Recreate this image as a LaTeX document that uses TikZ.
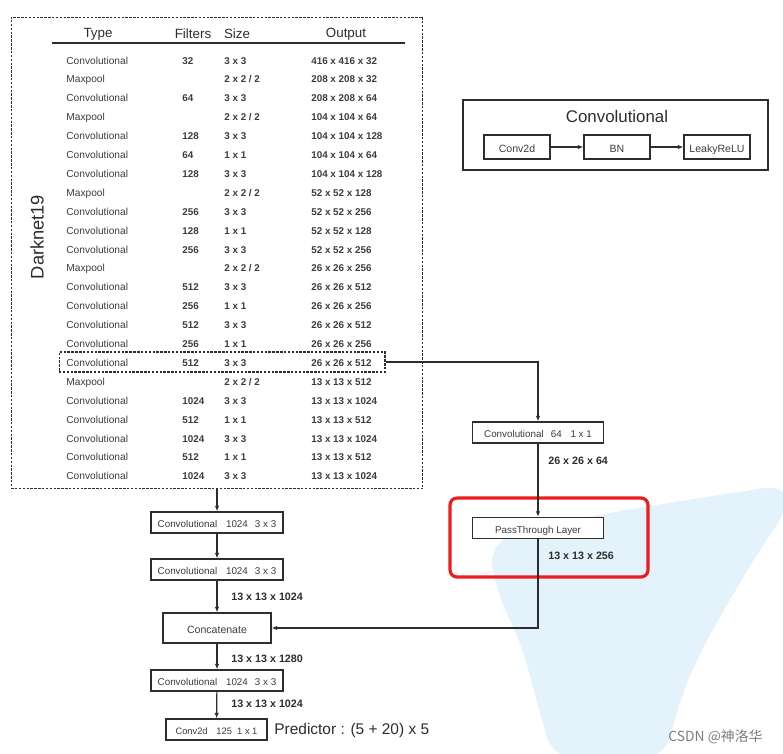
\documentclass[tikz,border=0pt]{standalone}
\usepackage{fontspec}
\setmainfont{Liberation Sans}
\newfontfamily\cjkfont{Noto Sans CJK SC}
\usepackage{tikz}
\usetikzlibrary{positioning,arrows.meta,backgrounds}
\definecolor{InkGray}{RGB}{45,45,45}
\definecolor{TextGray}{RGB}{60,60,60}
\definecolor{MarkRed}{RGB}{238,28,28}
\definecolor{HazeBlue}{RGB}{228,243,251}
\definecolor{StampGray}{RGB}{125,125,125}
\newcommand{\poolsize}{2 x 2 / 2}
\tikzset{
  typecell/.style={anchor=west, inner sep=0pt, text height=1.6ex, text depth=0.4ex, text=TextGray, font=\fontsize{5.8}{7}\selectfont},
  numcell/.style={typecell, font=\bfseries\fontsize{5.6}{7}\selectfont},
  headcell/.style={inner sep=0pt, text=InkGray, font=\fontsize{7.6}{9}\selectfont},
  dashbox/.style={draw=InkGray, line width=0.6pt, dash pattern=on 1.4pt off 0.8pt},
  layerbox/.style={draw=InkGray, line width=0.7pt, fill=white, inner sep=0pt, text=TextGray, text height=1.5ex, text depth=0.35ex, minimum height=0.42cm, font=\fontsize{5.6}{7}\selectfont},
  dimlabel/.style={anchor=west, inner sep=0pt, text=InkGray, font=\bfseries\fontsize{6.1}{7}\selectfont},
  arr/.style={draw=InkGray, line width=0.7pt, -{Latex[length=3.2pt,width=2.6pt]}}
}
\begin{document}
\begin{tikzpicture}[x=0.02cm, y=-0.02cm]
  \useasboundingbox (0,0) rectangle (783,753);
  \begin{scope}
    \clip (0,0) rectangle (783,753);
    \fill[HazeBlue, rounded corners=14pt] (488,542) -- (580,518) -- (655,505) -- (790,484) -- (790,505) -- (752,562) -- (705,643) -- (682,693) -- (664,760) -- (553,760) -- (521,643) -- (497,593) -- cycle;
  \end{scope}
  % Darknet19 table
  \node[dashbox, minimum width=8.24cm, minimum height=9.44cm] (darknet) at (217,253) {};
  \node[rotate=90, inner sep=0pt, text=InkGray, font=\fontsize{10.4}{12}\selectfont] (dnlabel) at (37,237) {Darknet19};
  \node[headcell] (htype) at (98,34) {Type};
  \node[headcell] (hfilt) at (193,34) {Filters};
  \node[headcell] (hsize) at (237,34) {Size};
  \node[headcell] (hout) at (346,34) {Output};
  \draw[InkGray, line width=0.8pt] (52,43) -- (405,43);
  \foreach \ltype/\lfilt/\lsize/\lout [count=\r from 0] in {
    Convolutional/32/3 x 3/416 x 416 x 32,
    Maxpool/{}/\poolsize/208 x 208 x 32,
    Convolutional/64/3 x 3/208 x 208 x 64,
    Maxpool/{}/\poolsize/104 x 104 x 64,
    Convolutional/128/3 x 3/104 x 104 x 128,
    Convolutional/64/1 x 1/104 x 104 x 64,
    Convolutional/128/3 x 3/104 x 104 x 128,
    Maxpool/{}/\poolsize/52 x 52 x 128,
    Convolutional/256/3 x 3/52 x 52 x 256,
    Convolutional/128/1 x 1/52 x 52 x 128,
    Convolutional/256/3 x 3/52 x 52 x 256,
    Maxpool/{}/\poolsize/26 x 26 x 256,
    Convolutional/512/3 x 3/26 x 26 x 512,
    Convolutional/256/1 x 1/26 x 26 x 256,
    Convolutional/512/3 x 3/26 x 26 x 512,
    Convolutional/256/1 x 1/26 x 26 x 256,
    Convolutional/512/3 x 3/26 x 26 x 512,
    Maxpool/{}/\poolsize/13 x 13 x 512,
    Convolutional/1024/3 x 3/13 x 13 x 1024,
    Convolutional/512/1 x 1/13 x 13 x 512,
    Convolutional/1024/3 x 3/13 x 13 x 1024,
    Convolutional/512/1 x 1/13 x 13 x 512,
    Convolutional/1024/3 x 3/13 x 13 x 1024}{
    \node[typecell] (type\r) at (66,58.5+18.9*\r) {\ltype};
    \node[numcell] (filt\r) at (182,58.5+18.9*\r) {\lfilt};
    \node[numcell] (size\r) at (224,58.5+18.9*\r) {\lsize};
    \node[numcell] (out\r) at (311,58.5+18.9*\r) {\lout};
  }
  \node[dashbox, minimum width=6.52cm, minimum height=0.4cm] (route) at (222,362) {};
  % Convolutional legend
  \node[draw=InkGray, line width=0.7pt, minimum width=6.1cm, minimum height=1.4cm] (legend) at (615.5,135) {};
  \node[inner sep=0pt, text=InkGray, font=\fontsize{9.6}{11}\selectfont] (legtitle) at (617,116) {Convolutional};
  \node[layerbox, minimum width=1.32cm, minimum height=0.48cm, font=\fontsize{6}{7}\selectfont] (c2d) at (517,147) {Conv2d};
  \node[layerbox, minimum width=1.32cm, minimum height=0.48cm, font=\fontsize{6}{7}\selectfont] (bn) at (617,147) {BN};
  \node[layerbox, minimum width=1.32cm, minimum height=0.48cm, font=\fontsize{6}{7}\selectfont] (relu) at (717,147) {LeakyReLU};
  \draw[arr] (c2d) -- (bn);
  \draw[arr] (bn) -- (relu);
  % passthrough branch
  \node[layerbox, minimum width=2.62cm] (rconv) at (538,432.5) {Convolutional\hspace{4pt}64\hspace{5pt}1 x 1};
  \node[layerbox, minimum width=2.62cm] (pass) at (538,528) {PassThrough Layer};
  \node[dimlabel] (lbl64) at (548,461) {26 x 26 x 64};
  \node[dimlabel] (lbl256) at (548,556) {13 x 13 x 256};
  \draw[MarkRed, line width=1.8pt, rounded corners=4pt] (450,498) rectangle (648,577);
  % main column
  \node[layerbox, minimum width=2.64cm] (conv1) at (217,522.5) {Convolutional\hspace{5pt}1024\hspace{4pt}3 x 3};
  \node[layerbox, minimum width=2.64cm] (conv2) at (217,569.5) {Convolutional\hspace{5pt}1024\hspace{4pt}3 x 3};
  \node[layerbox, minimum width=2.16cm, minimum height=0.6cm, font=\fontsize{6}{7}\selectfont] (concat) at (217,628) {Concatenate};
  \node[layerbox, minimum width=2.64cm] (conv3) at (217,680.5) {Convolutional\hspace{5pt}1024\hspace{4pt}3 x 3};
  \node[layerbox, minimum width=2.02cm, font=\fontsize{5.3}{7}\selectfont] (pred) at (216.5,729.5) {Conv2d\hspace{5pt}125\hspace{3pt}1 x 1};
  \node[dimlabel] (lbla) at (231,597) {13 x 13 x 1024};
  \node[dimlabel] (lblb) at (231,659) {13 x 13 x 1280};
  \node[dimlabel] (lblc) at (231,704) {13 x 13 x 1024};
  \node[anchor=west, inner sep=0pt, text=InkGray, font=\fontsize{8.8}{10}\selectfont] (predtext) at (274,730) {Predictor : (5 + 20) x 5};
  \draw[arr] (darknet.south) -- (conv1);
  \draw[arr] (conv1) -- (conv2);
  \draw[arr] (conv2) -- (concat);
  \draw[arr] (concat) -- (conv3);
  \draw[arr] (conv3) -- (pred);
  \draw[arr] (route.east) -| (rconv.north);
  \draw[arr] (rconv) -- (pass);
  \draw[arr] (pass.south) |- (concat.east);
  \node[anchor=west, inner sep=0pt, text=StampGray, font=\cjkfont\fontsize{7.9}{9}\selectfont] (stamp) at (668,737) {CSDN @神洛华};
\end{tikzpicture}
\end{document}
